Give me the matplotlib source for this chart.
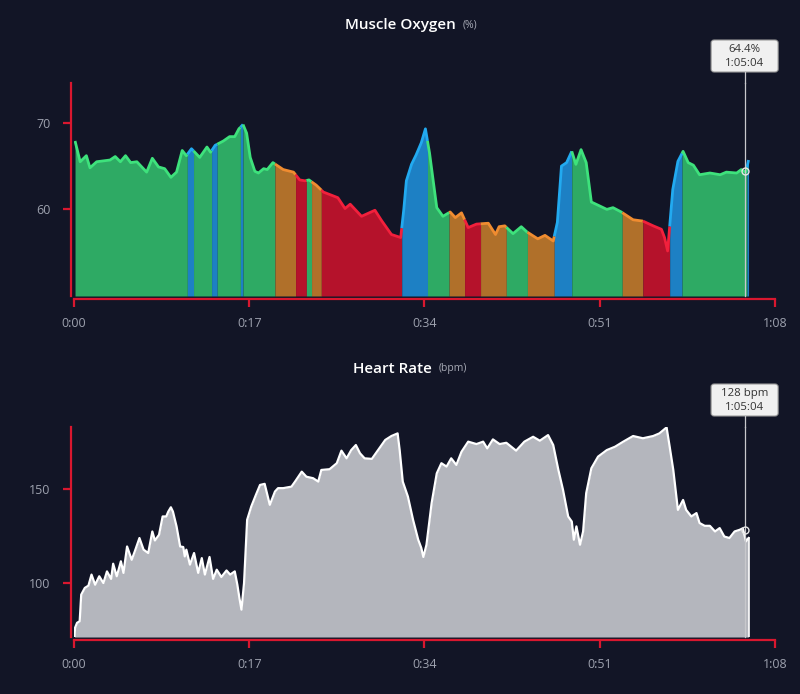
import numpy as np
import matplotlib
matplotlib.use("Agg")
import matplotlib.pyplot as plt
from matplotlib.patches import FancyBboxPatch

plt.rcParams['font.family'] = ['Open Sans', 'DejaVu Sans']

# ---------------- data ----------------
x_ticks = [0, 17, 34, 51, 68]
x_tick_labels = ["0:00", "0:17", "0:34", "0:51", "1:08"]

mo_yticks = [60, 70]
hr_yticks = [100, 150]

# Muscle oxygen (%) vs time (minutes)
mo_t = [0.1, 0.6, 1.2, 1.55, 2.2, 3.5, 4.0, 4.5, 5.0, 5.5,
        6.1, 7.05, 7.6, 8.2, 8.8, 9.4, 9.95, 10.5, 10.9, 11.4,
        12.2, 12.9, 13.25, 13.7, 14.5, 15.1, 15.6, 16.0, 16.4, 16.75,
        17.1, 17.55, 17.9, 18.4, 18.75, 19.3, 20.3, 21.3, 21.9, 22.4,
        22.8, 23.5, 24.2, 25.6, 26.3, 26.8, 27.9, 29.2, 29.85, 30.8,
        31.7, 32.0, 32.25, 32.75, 33.2, 33.7, 34.1, 34.5, 35.2, 35.8,
        36.5, 37.0, 37.6, 38.25, 39.05, 40.2, 40.9, 41.25, 41.8, 42.6,
        43.4, 43.95, 45.0, 45.7, 46.5, 46.9, 47.3, 47.8, 48.3, 48.7,
        49.2, 49.7, 50.2, 51.0, 51.7, 52.3, 53.1, 54.25, 55.2, 56.2,
        57.0, 57.3, 57.6, 58.1, 58.6, 59.1, 59.6, 60.1, 60.7, 61.7,
        62.7, 63.3, 64.3, 64.75, 65.2, 65.45]
mo_v = [67.9, 65.5, 66.2, 64.8, 65.5, 65.7, 66.1, 65.5, 66.2, 65.4,
        65.5, 64.3, 65.9, 64.9, 64.7, 63.7, 64.3, 66.8, 66.2, 67.0,
        66.0, 67.2, 66.6, 67.4, 67.9, 68.4, 68.4, 69.3, 69.8, 68.8,
        66.0, 64.4, 64.2, 64.7, 64.6, 65.4, 64.6, 64.3, 63.4, 63.3,
        63.4, 62.8, 62.0, 61.35, 60.1, 60.6, 59.2, 59.9, 58.7, 57.1,
        56.75, 60.0, 63.3, 65.2, 66.3, 67.7, 69.3, 66.5, 60.2, 59.2,
        59.7, 59.05, 59.6, 57.9, 58.3, 58.4, 57.1, 58.0, 58.1, 57.2,
        58.0, 57.4, 56.6, 57.0, 56.35, 58.5, 65.0, 65.4, 66.7, 65.2,
        66.9, 65.4, 60.85, 60.4, 60.0, 60.2, 59.7, 58.8, 58.65, 58.1,
        57.7, 56.75, 55.2, 62.3, 65.55, 66.7, 65.4, 65.1, 64.0, 64.2,
        64.0, 64.3, 64.2, 64.6, 64.3, 65.7]

# Zones of the muscle-oxygen trace: start, end (minutes), zone name
zone_start = [0.0, 11.0, 11.6, 13.35, 13.9, 16.15, 16.4, 19.5, 21.5, 22.55,
              23.05, 24.0, 31.8, 34.3, 36.4, 37.9, 39.45, 41.95, 44.0, 46.6,
              48.3, 53.2, 55.2, 57.8, 59.0, 65.3]
zone_end = [11.0, 11.6, 13.35, 13.9, 16.15, 16.4, 19.5, 21.5, 22.55, 23.05,
            24.0, 31.8, 34.3, 36.4, 37.9, 39.45, 41.95, 44.0, 46.6, 48.3,
            53.2, 55.2, 57.8, 59.0, 65.3, 65.45]
zone_name = ["green", "blue", "green", "blue", "green", "blue", "green", "orange", "red", "green",
             "orange", "red", "blue", "green", "orange", "red", "orange", "green", "orange", "blue",
             "green", "orange", "red", "blue", "green", "blue"]

# Heart rate (bpm) vs time (minutes)
hr_t = [0.05, 0.1, 0.3, 0.55, 0.7, 1.05, 1.4, 1.7, 2.05, 2.45,
        2.85, 3.2, 3.6, 3.8, 4.15, 4.55, 4.8, 5.15, 5.6, 5.9,
        6.35, 6.75, 7.2, 7.6, 7.85, 8.25, 8.6, 8.95, 9.15, 9.4,
        9.6, 9.95, 10.3, 10.6, 10.75, 10.9, 11.25, 11.65, 12.05, 12.4,
        12.7, 13.15, 13.5, 13.85, 14.3, 14.8, 15.15, 15.6, 15.85, 16.05,
        16.25, 16.5, 16.8, 17.2, 17.65, 18.05, 18.5, 19.0, 19.5, 19.8,
        20.3, 21.1, 21.45, 22.1, 22.55, 23.2, 23.7, 24.0, 24.8, 25.5,
        25.95, 26.45, 26.9, 27.35, 27.75, 28.2, 28.9, 29.5, 30.2, 30.8,
        31.4, 31.6, 31.9, 32.4, 32.9, 33.4, 33.7, 33.9, 34.2, 34.7,
        35.2, 35.65, 36.15, 36.6, 37.1, 37.6, 38.25, 39.05, 39.7, 40.1,
        40.65, 41.3, 41.95, 42.9, 43.7, 44.55, 45.2, 46.0, 46.5, 47.0,
        47.45, 47.95, 48.3, 48.5, 48.75, 49.1, 49.4, 49.7, 50.2, 50.85,
        51.7, 52.5, 53.3, 54.25, 55.2, 56.2, 56.8, 57.5, 57.8, 58.15,
        58.6, 59.1, 59.4, 59.9, 60.4, 60.7, 61.2, 61.7, 62.2, 62.65,
        63.1, 63.6, 64.1, 64.6, 64.9, 65.2, 65.45]
hr_v = [71.4, 75.9, 78.6, 79.4, 93.6, 97.2, 98.4, 104.3, 98.9, 103.4,
        99.8, 106.0, 102.0, 110.1, 103.4, 111.4, 105.2, 119.3, 112.2, 116.7,
        123.8, 117.6, 115.8, 127.3, 122.5, 125.5, 135.3, 135.3, 137.9, 140.2,
        137.9, 130.0, 119.3, 119.0, 114.0, 117.6, 109.6, 115.8, 105.2, 113.1,
        104.3, 113.7, 102.0, 106.9, 103.0, 106.5, 104.3, 106.0, 98.9, 91.8,
        85.6, 99.8, 133.5, 140.6, 146.8, 152.1, 152.7, 141.5, 148.6, 150.4,
        150.4, 151.2, 153.9, 159.2, 156.5, 155.7, 153.9, 160.1, 160.5, 163.7,
        170.4, 166.3, 170.7, 173.4, 169.0, 166.3, 166.0, 170.7, 176.1, 178.2,
        179.6, 170.7, 153.9, 145.9, 133.5, 122.9, 118.5, 113.7, 120.2, 142.4,
        158.3, 163.7, 161.9, 166.3, 162.8, 169.8, 175.2, 173.9, 175.2, 171.6,
        176.4, 173.9, 174.6, 170.4, 175.2, 177.8, 175.7, 178.7, 173.4, 160.1,
        149.5, 135.3, 132.6, 122.9, 130.0, 120.2, 127.3, 147.7, 161.0, 167.2,
        170.7, 172.5, 175.2, 178.2, 177.0, 178.2, 179.6, 182.8, 172.5, 160.1,
        138.8, 144.1, 138.8, 135.3, 137.1, 131.8, 130.3, 130.3, 127.3, 129.1,
        124.6, 123.8, 127.3, 128.2, 129.0, 122.0, 123.8]

cursor_t = 65.07
cursor_mo = 64.4
cursor_hr = 128
cursor_label_time = "1:05:04"

# ---------------- style ----------------
BG = "#121526"
AXIS_RED = "#d9172f"
TICK_TXT = "#9da1ae"
zone_fill = {"green": "#2eaa64", "blue": "#1d80c4", "orange": "#b0702a", "red": "#b5122b"}
zone_line = {"green": "#3ee27c", "blue": "#22aaf0", "orange": "#f08c30", "red": "#f2203c"}

fig = plt.figure(figsize=(8.0, 6.94), dpi=100, facecolor=BG)

ax1 = fig.add_axes([0.0925, 0.5735, 0.876, 0.307])
ax2 = fig.add_axes([0.0925, 0.0821, 0.876, 0.3026])


def style_axis(ax, ylim, yticks):
    ax.set_facecolor(BG)
    ax.set_xlim(0, 68)
    ax.set_ylim(*ylim)
    for s in ["top", "right"]:
        ax.spines[s].set_visible(False)
    for s in ["left", "bottom"]:
        ax.spines[s].set_color(AXIS_RED)
        ax.spines[s].set_linewidth(1.6)
        ax.spines[s].set_position(("outward", 2))
    ax.set_xticks(x_ticks)
    ax.set_xticklabels(x_tick_labels)
    ax.set_yticks(yticks)
    ax.tick_params(axis="both", colors=AXIS_RED, labelcolor=TICK_TXT, labelsize=9,
                   length=6, width=1.6, direction="out")
    ax.tick_params(axis="x", pad=7)
    ax.tick_params(axis="y", pad=9)


style_axis(ax1, (50.0, 74.6), mo_yticks)
style_axis(ax2, (71.0, 183.0), hr_yticks)

# ---- muscle oxygen zoned area ----
t = np.array(mo_t)
v = np.array(mo_v)
base = ax1.get_ylim()[0]
for s, e, z in zip(zone_start, zone_end, zone_name):
    s2 = max(s, t[0])
    inner = (t > s2) & (t < e)
    xs = np.concatenate([[s2], t[inner], [e]])
    ys = np.concatenate([[np.interp(s2, t, v)], v[inner], [np.interp(e, t, v)]])
    ax1.fill_between(xs, base, ys, color=zone_fill[z], linewidth=0, zorder=2)
    ax1.plot(xs, ys, color=zone_line[z], linewidth=2.0, zorder=3,
             solid_capstyle="butt", solid_joinstyle="round")

# ---- heart rate area ----
ax2.fill_between(hr_t, ax2.get_ylim()[0], hr_v, color="#b4b6bd", linewidth=0, zorder=2)
ax2.plot(hr_t, hr_v, color="#ffffff", linewidth=1.6, zorder=3, solid_joinstyle="round")
ax2.plot([hr_t[-1], hr_t[-1]], [hr_v[-1], ax2.get_ylim()[0]], color="#ffffff", linewidth=1.2, zorder=3)


# ---- cursor lines + markers ----
def cursor(ax, yval):
    ax.axvline(cursor_t, ymin=0, ymax=1.0, color="#c8c8cc", linewidth=0.9, zorder=4, clip_on=False)
    ax.plot([cursor_t], [yval], marker="o", markersize=5, markerfacecolor="none",
            markeredgecolor="#e6e6e6", markeredgewidth=1.0, zorder=5)


cursor(ax1, cursor_mo)
cursor(ax2, cursor_hr)


def tooltip(ax, top_px, lines):
    x_disp = ax.transData.transform((cursor_t, 0))[0]
    fx = x_disp / fig.bbox.width
    ax_top = ax.get_position().y1
    box_bottom = 1 - (top_px + 32) / 694
    fig.add_artist(plt.Line2D([fx, fx], [ax_top, box_bottom], color="#c8c8cc", linewidth=0.9,
                              transform=fig.transFigure))
    w = 67 / 800
    h = 32 / 694
    box = FancyBboxPatch((fx - w / 2, box_bottom), w, h,
                         boxstyle="round,pad=0,rounding_size=0.004",
                         facecolor="#f0f0f0", edgecolor="#9a9a9a", linewidth=0.8,
                         transform=fig.transFigure)
    fig.add_artist(box)
    fig.text(fx, box_bottom + h * 0.71, lines[0], ha="center", va="center",
             fontsize=8.2, color="#333333")
    fig.text(fx, box_bottom + h * 0.28, lines[1], ha="center", va="center",
             fontsize=8.2, color="#333333")


tooltip(ax1, 40, [f"{cursor_mo}%", cursor_label_time])
tooltip(ax2, 384, [f"{cursor_hr} bpm", cursor_label_time])

# ---- titles ----
fig.text(456 / 800, 1 - 25 / 694, "Muscle Oxygen", ha="right", va="center",
         fontsize=11, color="#ffffff", fontweight="semibold")
fig.text(463 / 800, 1 - 25 / 694, "(%)", ha="left", va="center", fontsize=7.5, color="#a6a9b4")
fig.text(432 / 800, 1 - 369 / 694, "Heart Rate", ha="right", va="center",
         fontsize=11, color="#ffffff", fontweight="semibold")
fig.text(439 / 800, 1 - 369 / 694, "(bpm)", ha="left", va="center", fontsize=7.5, color="#a6a9b4")

assert len(mo_t) == len(mo_v) and len(hr_t) == len(hr_v)
fig.savefig("out.png", dpi=100, facecolor=BG)
